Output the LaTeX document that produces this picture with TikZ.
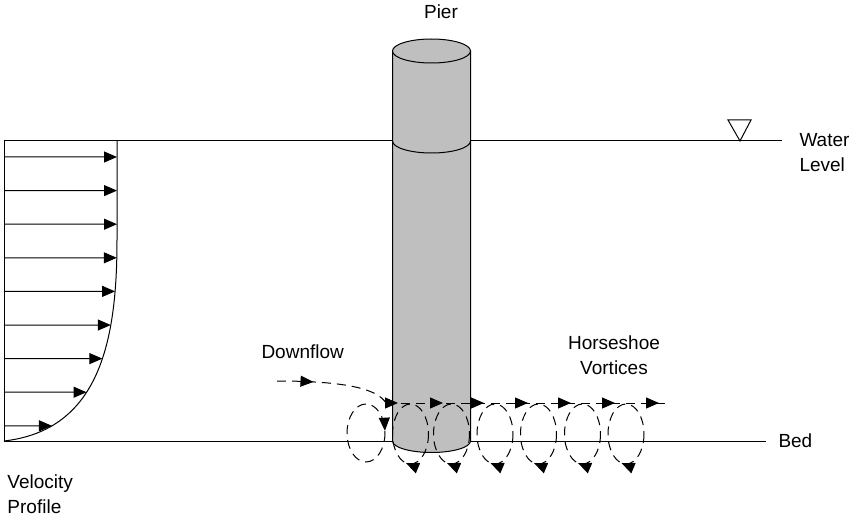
\documentclass[tikz,border=0pt]{standalone}
\usepackage{fontspec}
\setmainfont{Liberation Sans}
\usetikzlibrary{arrows.meta,decorations.markings,intersections}

\begin{document}
\begin{tikzpicture}[x=0.5pt, y=-0.5pt, line width=0.5pt,
    >={Triangle[length=6.5pt,width=5.5pt]},
    every node/.style={inner sep=0pt, font=\fontsize{9.5}{12.5}\selectfont},
    lbl/.style={anchor=west, align=left}, % rotulos alinhados a esquerda
    pierfill/.style={fill=black!25, draw=black},
    flow/.style={dash pattern=on 4.5pt off 3pt}, % linhas de escoamento
    tip at/.style={postaction={decorate, decoration={markings,
          mark=at position #1 with {\arrow{>}}}}},
  ]
  \useasboundingbox (0,0) rectangle (858,519);

  % superficie da agua e leito
  \draw (4,141) -- (782,141);
  \draw (4,441) -- (766,441);
  \draw (728,120) -- (751,120) -- (740,141) -- cycle; % nivel

  % perfil de velocidade
  \draw (4,141) -- (4,441);
  \draw[name path=profile] (117,141) -- (117,240)
    .. controls (117,340) and (100,430) .. (4,441);
  \foreach \k in {0,...,8} {
    \coordinate (v0) at (4,157+33.6*\k);
    \path[name path=ray] (v0) -- ++(140,0);
    \draw[->, name intersections={of=profile and ray, by=v1}] (v0) -- (v1);
  }

  % pilar
  \draw[pierfill] (392.5,51) -- (392.5,441)
    arc[start angle=180, end angle=0, x radius=39, y radius=11.5]
    -- (470.5,51) -- cycle;
  \draw[pierfill] (431.5,51) ellipse[x radius=39, y radius=12];
  \draw (392.5,141) arc[start angle=180, end angle=0, x radius=39, y radius=12];

  % rotulos
  \node (pier) at (441,12) {Pier};
  \node[lbl] (water) at (799,153) {Water\\Level};
  \node[lbl] (bed) at (778,441) {Bed};
  \node[lbl] (profile) at (7,494) {Velocity\\Profile};
  \node[lbl] (down) at (261,352) {Downflow};
  \node[align=center] (vortex) at (614,355) {Horseshoe\\Vortices};

  % escoamento descendente e vortices
  \coordinate (split) at (386,403);
  \draw[flow, tip at=0.32] (277,381) .. controls (350,381) and (378,390) .. (split);
  \draw[flow, tip at/.list={6pt,28.5pt,49pt,71pt,92.5pt,114.5pt,136.5pt}]
    (split) -- (668,403);
  \draw[flow, tip at=0.985] (366,433) ellipse[x radius=19, y radius=29];
  \foreach \cx in {410.5,451.5,495,538.5,582.5,626}
    \draw[flow, tip at=0.28] (\cx,434) ellipse[x radius=18, y radius=30];
\end{tikzpicture}
\end{document}
